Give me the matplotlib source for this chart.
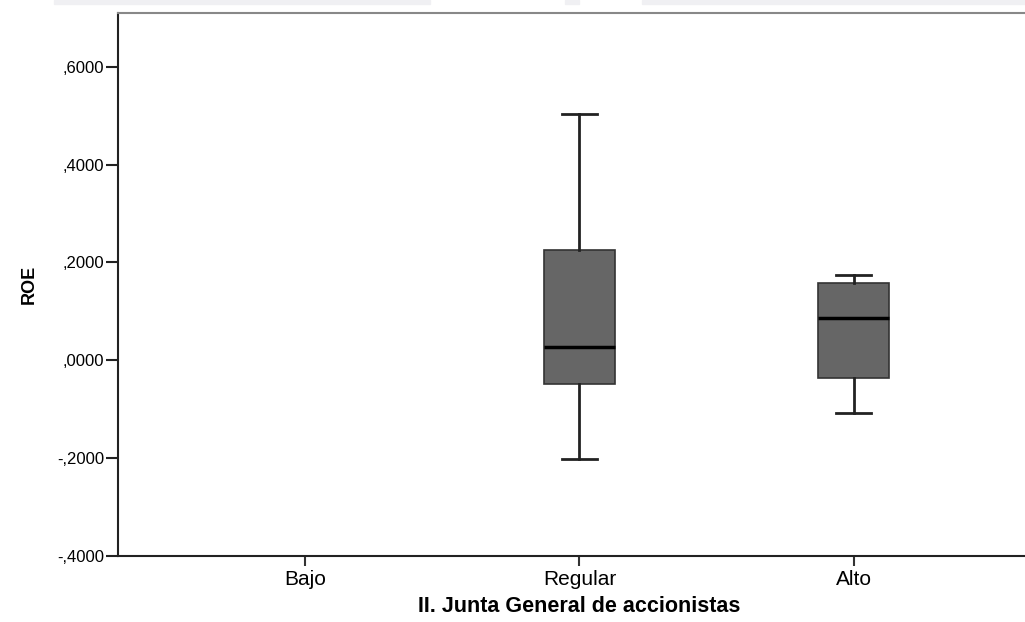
import matplotlib
matplotlib.use('Agg')
import matplotlib.pyplot as plt
from matplotlib.ticker import FuncFormatter
from matplotlib.patches import Rectangle

plt.rcParams['font.family'] = ['Liberation Sans', 'DejaVu Sans']

categorias = ['Bajo', 'Regular', 'Alto']
# estadísticos (Bajo sin datos)
whislo = [-0.202, -0.108]
q1 = [-0.048, -0.037]
med = [0.028, 0.086]
q3 = [0.226, 0.158]
whishi = [0.504, 0.175]
posiciones = [2, 3]

stats = []
for i in range(len(med)):
    stats.append({'whislo': whislo[i], 'q1': q1[i], 'med': med[i],
                  'q3': q3[i], 'whishi': whishi[i], 'fliers': []})

fig = plt.figure(figsize=(10.25, 6.22), dpi=100)

# franjas grises tenues en el borde superior (restos del escaneo)
for x0, x1 in [(54, 430), (565, 579), (642, 1025)]:
    fig.patches.append(Rectangle((x0 / 1025, 1 - 4 / 622), (x1 - x0) / 1025, 4 / 622,
                                 transform=fig.transFigure, color='#f0f0f3', zorder=0))

ax = fig.add_axes([0.1151, 0.1061, 0.9005, 0.873])

ax.bxp(stats, positions=posiciones, widths=0.258, patch_artist=True,
       showfliers=False,
       boxprops=dict(facecolor='#666666', edgecolor='#333333', linewidth=1.2),
       medianprops=dict(color='black', linewidth=2.5),
       whiskerprops=dict(color='#222222', linewidth=2),
       capprops=dict(color='#222222', linewidth=2),
       capwidths=0.128)

ax.set_xlim(0.318, 3.682)
ax.set_ylim(-0.4, 0.71)
ax.set_xticks([1, 2, 3])
ax.set_xticklabels(categorias, fontsize=15)
ax.set_yticks([-0.4, -0.2, 0.0, 0.2, 0.4, 0.6])

def fmt(v, pos):
    return f"{v:.4f}".replace('0.', ',', 1)
ax.yaxis.set_major_formatter(FuncFormatter(fmt))
ax.tick_params(axis='y', length=9, width=1.5, labelsize=12, direction='out', pad=1,
               color='#222222')
ax.tick_params(axis='x', length=7, width=1.5, direction='out', pad=3, color='#333333')

for s in ['left', 'bottom']:
    ax.spines[s].set_linewidth(1.5)
    ax.spines[s].set_color('#222222')
ax.spines['top'].set_color('#888888')
ax.spines['top'].set_linewidth(1.5)
ax.spines['right'].set_visible(False)

ax.set_ylabel('ROE', fontsize=13, fontweight='bold', labelpad=14)
ax.set_xlabel('II. Junta General de accionistas', fontsize=15.5, fontweight='bold', labelpad=5)

fig.savefig('out.png', dpi=100)
